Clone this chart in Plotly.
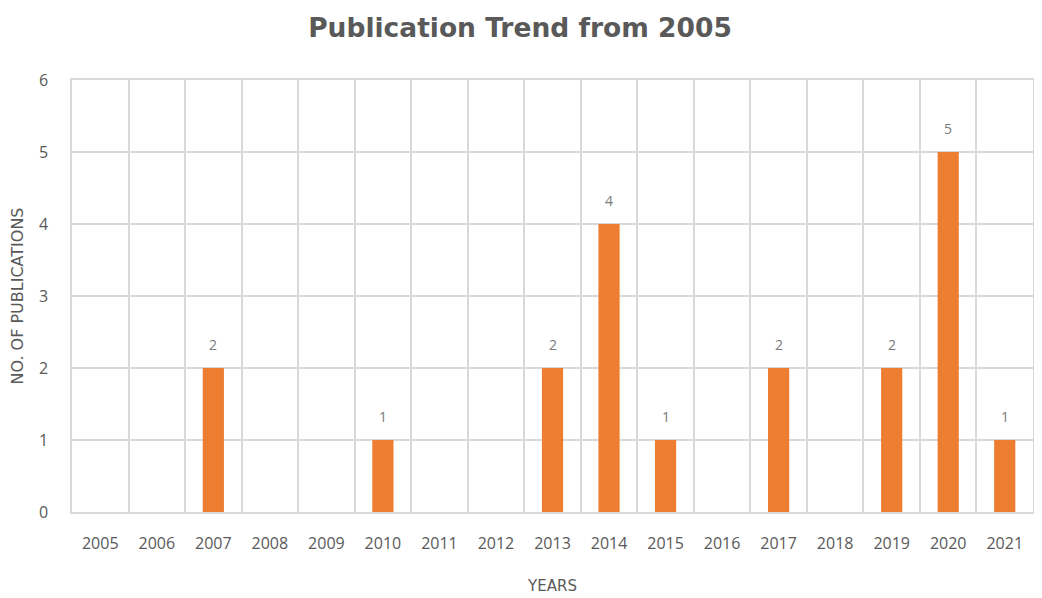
import plotly.graph_objects as go

years = ["2005", "2006", "2007", "2008", "2009", "2010", "2011", "2012", "2013",
         "2014", "2015", "2016", "2017", "2018", "2019", "2020", "2021"]
publications = [0, 0, 2, 0, 0, 1, 0, 0, 2, 4, 1, 0, 2, 0, 2, 5, 1]

TEXT = "#595959"
GRID = "#d9d9d9"
ORANGE = "#ED7D31"
FONT = "Open Sans, sans-serif"
WIDE = "DejaVu Sans, sans-serif"

W, H = 1034, 590  # page body has an 8px margin

fig = go.Figure()
fig.add_trace(go.Bar(x=years, y=publications, marker=dict(color=ORANGE, line=dict(width=0)),
                     hoverinfo="x+y"))

for i, v in enumerate(publications):
    if v > 0:
        fig.add_annotation(x=i, y=v, xref="x", yref="y", text=str(v), showarrow=False,
                           yanchor="bottom", yshift=12,
                           font=dict(family=FONT, size=14, color="#7a7a7a"))

fig.update_layout(
    width=W, height=H,
    margin=dict(l=64, r=9, t=72, b=86),
    paper_bgcolor="white", plot_bgcolor="white",
    bargap=0.625,
    showlegend=False,
    title=dict(text="<b>Publication Trend from 2005</b>", xref="container", x=512 / W, xanchor="center",
               y=1 - 20 / H, yanchor="middle",
               font=dict(family=WIDE, size=26.5, color=TEXT)),
    font=dict(family=FONT, color=TEXT, size=13),
)
fig.update_xaxes(type="category", range=[-0.5, 16.5], tickson="boundaries", showgrid=True,
                 gridcolor=GRID, gridwidth=1.5, automargin=False,
                 showline=True, linecolor=GRID, linewidth=1.5, mirror=True, ticks="",
                 tickangle=0, tickfont=dict(size=16, color=TEXT), ticklabelstandoff=16,
                 title=dict(text="YEARS", font=dict(family=WIDE, size=15, color=TEXT), standoff=28))
fig.update_yaxes(range=[0, 6], dtick=1, showgrid=True, gridcolor=GRID, gridwidth=1.5,
                 showline=True, linecolor=GRID, linewidth=1.5, mirror=True, ticks="",
                 automargin=False,
                 zeroline=False, tickfont=dict(size=16, color=TEXT), ticklabelstandoff=19,
                 title=dict(text="NO. OF PUBLICATIONS", font=dict(family=WIDE, size=16, color=TEXT),
                            standoff=12))

fig.write_html("out.html")
